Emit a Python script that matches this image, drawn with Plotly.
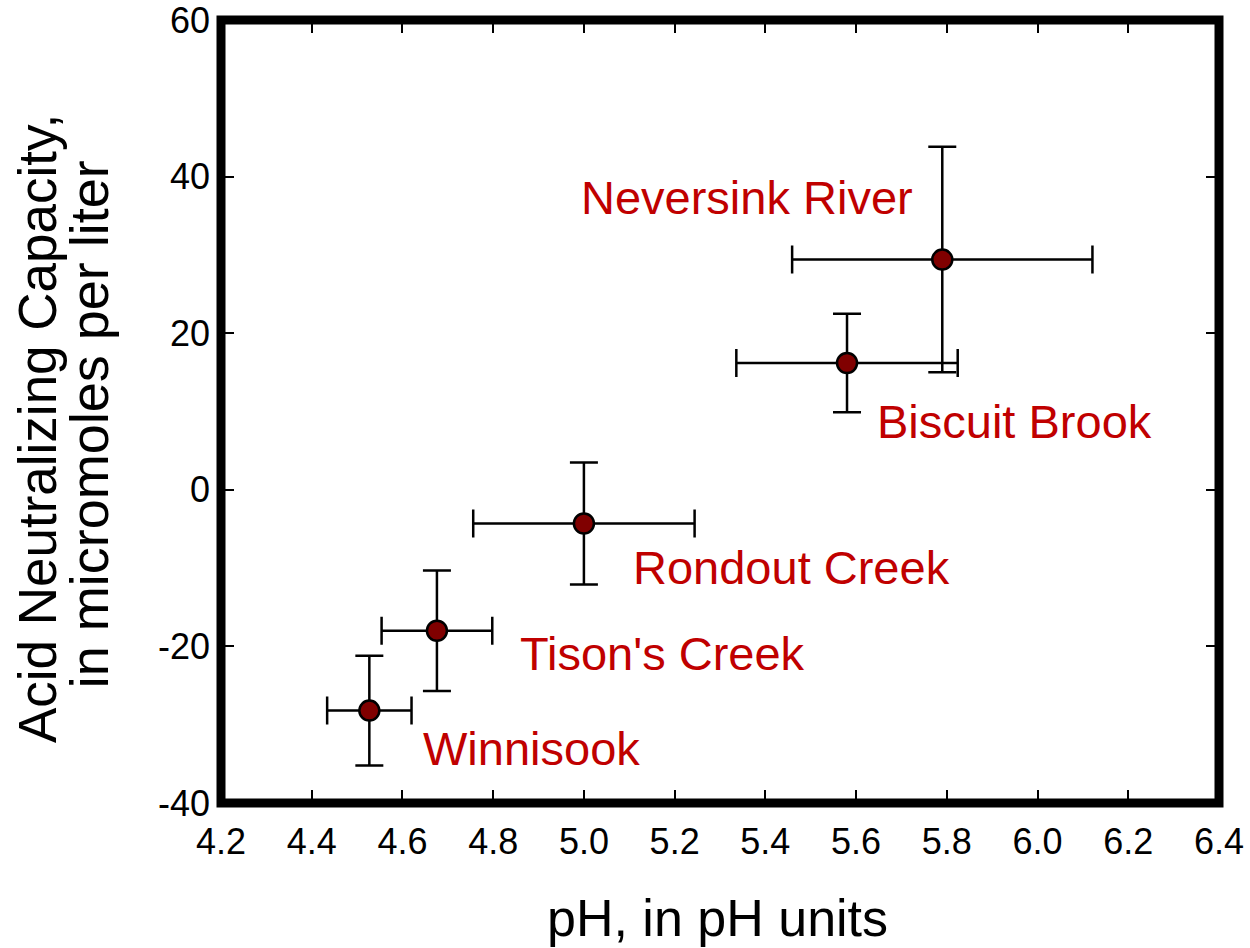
import plotly.graph_objects as go

# Stream sites with mean pH and acid neutralizing capacity (ANC), with spread
sites = ["Winnisook", "Tison's Creek", "Rondout Creek", "Biscuit Brook", "Neversink River"]
ph_mean = [4.527, 4.676, 5.0, 5.58, 5.79]
ph_err = [0.093, 0.122, 0.244, 0.244, 0.331]
anc_mean = [-28.2, -18.0, -4.3, 16.2, 29.4]
anc_err = [7.0, 7.7, 7.8, 6.3, 14.4]

x_ticks = [4.2, 4.4, 4.6, 4.8, 5.0, 5.2, 5.4, 5.6, 5.8, 6.0, 6.2, 6.4]
y_ticks = [-40, -20, 0, 20, 40, 60]

# Pixel offsets of each site label from its point
label_dx = [162, 226, 208, 167, -195]
label_dy = [38, 23, 44, 59, -62]

FONT = "Liberation Sans, Arial, sans-serif"
LABEL_RED = "#c00000"

fig = go.Figure()
fig.add_trace(go.Scatter(
    x=ph_mean, y=anc_mean, mode="markers",
    marker=dict(size=20, color="#800000", line=dict(color="black", width=2.5)),
    error_x=dict(type="data", array=ph_err, color="black", thickness=2.5, width=14),
    error_y=dict(type="data", array=anc_err, color="black", thickness=2.5, width=14),
    showlegend=False, hoverinfo="skip",
))

for name, x, y, dx, dy in zip(sites, ph_mean, anc_mean, label_dx, label_dy):
    fig.add_annotation(
        x=x, y=y, xref="x", yref="y", text=name,
        showarrow=True, arrowcolor="rgba(0,0,0,0)", arrowwidth=0.1,
        ax=dx, ay=dy, xanchor="center", yanchor="middle",
        font=dict(family=FONT, size=47, color=LABEL_RED),
    )

# Axis titles
fig.add_annotation(
    x=0.497, y=-0.147, xref="paper", yref="paper", text="pH, in pH units",
    showarrow=False, xanchor="center", yanchor="middle",
    font=dict(family=FONT, size=52, color="black"),
)
fig.add_annotation(
    x=-0.184, y=0.478, xref="paper", yref="paper", text="Acid Neutralizing Capacity,",
    showarrow=False, textangle=-90, xanchor="center", yanchor="middle",
    font=dict(family=FONT, size=53, color="black"),
)
fig.add_annotation(
    x=-0.132, y=0.484, xref="paper", yref="paper", text="in micromoles per liter",
    showarrow=False, textangle=-90, xanchor="center", yanchor="middle",
    font=dict(family=FONT, size=54, color="black"),
)

# Heavy frame around the plotting area
fig.add_shape(type="rect", xref="paper", yref="paper", x0=0, y0=0, x1=1, y1=1,
              line=dict(color="black", width=9), fillcolor="rgba(0,0,0,0)", layer="above")

axis_common = dict(
    showgrid=False, zeroline=False, showline=False,
    ticks="inside", ticklen=13, tickwidth=2, tickcolor="black",
    mirror="ticks", ticklabeloverflow="allow", automargin=False,
    tickfont=dict(family=FONT, size=36, color="black"),
)

fig.update_xaxes(range=[4.2, 6.4], tickvals=x_ticks,
                 ticktext=[f"{v:.1f}" for v in x_ticks], ticklabelstandoff=14, **axis_common)
fig.update_yaxes(range=[-40.0001, 60.0001], tickvals=y_ticks,
                 ticktext=[str(v) for v in y_ticks], ticklabelstandoff=10, **axis_common)

fig.update_layout(
    width=1250, height=948,
    margin=dict(l=221, r=31, t=20, b=145, autoexpand=False),
    paper_bgcolor="white", plot_bgcolor="white",
)

fig.write_html("out.html")
